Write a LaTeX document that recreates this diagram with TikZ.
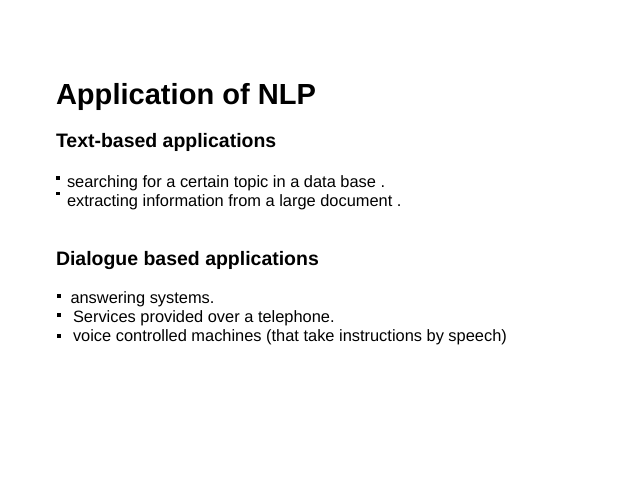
\documentclass[tikz,border=0pt]{standalone}
\usepackage{fontspec}
\setmainfont{Liberation Sans}
\begin{document}
\begin{tikzpicture}[x=0.75pt,y=-0.75pt,
  every node/.style={inner sep=0pt,outer sep=0pt,anchor=base west,text=black},
  titletext/.style={font=\fontsize{21.8pt}{26pt}\selectfont\bfseries},
  headtext/.style={font=\fontsize{14.6pt}{18pt}\selectfont\bfseries},
  bodytext/.style={font=\fontsize{12.3pt}{15pt}\selectfont},
  bulletsq/.style={fill=black}]
\fill[white] (0,0) rectangle (638,478);
\useasboundingbox (0,0) rectangle (638,478);
\node[titletext] (title) at (56,104) {Application of NLP};
\node[headtext] (h1) at (56,147.5) {Text-based applications};
\fill[bulletsq] (56,176) rectangle (59.5,179.5);
\node[bodytext] (t1) at (67,187) {searching for a certain topic in a data base .};
\fill[bulletsq] (56,191.8) rectangle (59.5,195.3);
\node[bodytext] (t2) at (67,206) {extracting information from a large document .};
\node[headtext] (h2) at (56,265) {Dialogue based applications};
\fill[bulletsq] (57,294) rectangle (61,298);
\node[bodytext] (d1) at (70.5,303.3) {answering systems.};
\fill[bulletsq] (57,313) rectangle (61,317);
\node[bodytext] (d2) at (73,322.3) {Services provided over a telephone.};
\fill[bulletsq] (57,333.5) rectangle (61,337.5);
\node[bodytext] (d3) at (73,341.5) {voice controlled machines (that take instructions by speech)};
\end{tikzpicture}
\end{document}
